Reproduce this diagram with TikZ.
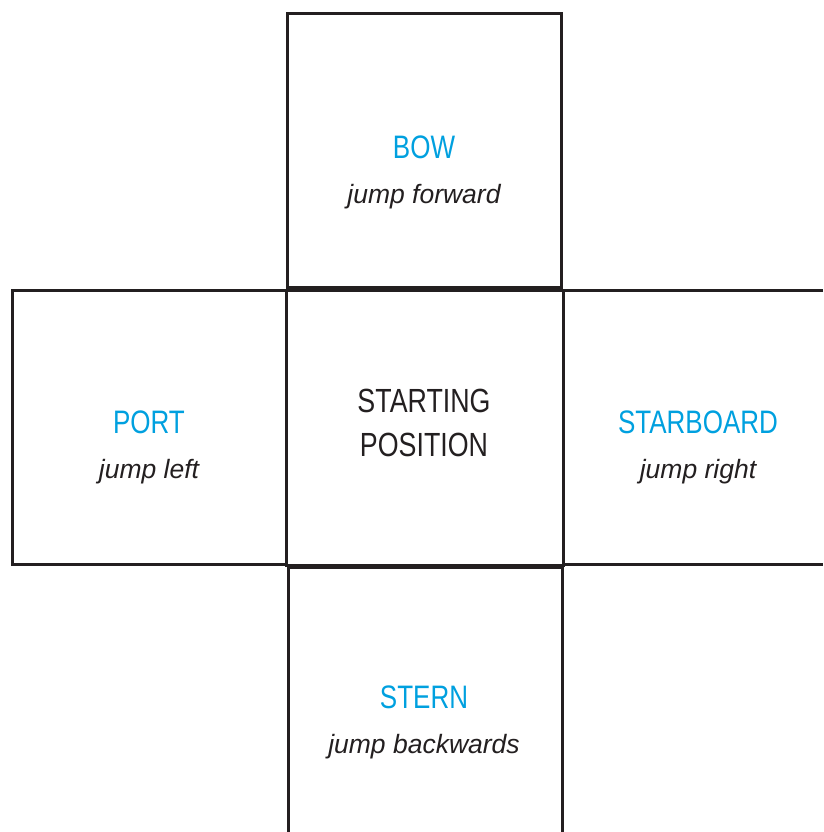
\documentclass[tikz,border=0pt]{standalone}
\usepackage{fontspec}
\setmainfont{Liberation Sans}
\newfontfamily\condfont[FakeStretch=0.8]{Liberation Sans}
\definecolor{capblue}{RGB}{0,160,223}
\definecolor{ink}{RGB}{35,31,32}
\begin{document}
\begin{tikzpicture}[x=1pt,y=-1pt,
  boxline/.style={draw=ink,line width=3pt},
  title/.style={anchor=base,inner sep=0pt,text=capblue,font=\condfont\fontsize{32.5}{38}\selectfont},
  sub/.style={anchor=base,inner sep=0pt,text=ink,font=\itshape\fontsize{26.5}{30}\selectfont},
  centre/.style={anchor=base,inner sep=0pt,text=ink,font=\condfont\fontsize{33.5}{40}\selectfont}]
\useasboundingbox (0,0) rectangle (823,832);
% boxes
\draw[boxline] (287,14) rectangle (561,287);
\draw[boxline] (12,290) rectangle (286,564);
\draw[boxline] (286,290) rectangle (563,565);
\draw[boxline] (823,290) -- (563,290) -- (563,564) -- (823,564);
\draw[boxline] (288,834) -- (288,567) -- (562,567) -- (562,834);
% texts
\node[title] (bow) at (424,158) {BOW};
\node[sub] (bowsub) at (424,203) {jump forward};
\node[title] (port) at (149,433) {PORT};
\node[sub] (portsub) at (149,478) {jump left};
\node[title] (star) at (698,433) {STARBOARD};
\node[sub] (starsub) at (698,478) {jump right};
\node[title] (stern) at (424,708) {STERN};
\node[sub] (sternsub) at (424,753) {jump backwards};
\node[centre] (start1) at (424,412) {STARTING};
\node[centre] (start2) at (424,456) {POSITION};
\end{tikzpicture}
\end{document}
